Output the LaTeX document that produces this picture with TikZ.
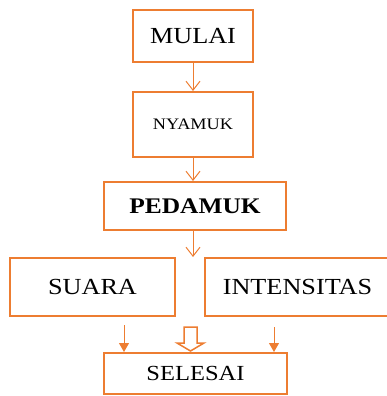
\documentclass[tikz,border=0pt]{standalone}
\usepackage{fontspec}
\setmainfont{Liberation Serif}[FakeStretch=1.14]
\usetikzlibrary{arrows.meta}
\definecolor{orng}{HTML}{ED7D31}
\begin{document}
\begin{tikzpicture}[x=1pt,y=-1pt,
  box/.style={draw=orng,line width=2pt,inner sep=0pt,text=black,
    minimum width=#1},
  big/.style={font=\fontsize{23}{25}\selectfont},
  conn/.style={draw=orng,line width=1pt},
  openarrow/.style={conn,-{Straight Barb[length=9pt,width=14pt,line width=1pt]}},
  filledarrow/.style={conn,-{Triangle[length=9pt,width=10pt]}}]
\useasboundingbox (0,0) rectangle (387,396);
\clip (0,0) rectangle (387,396);
\node[box=120pt,minimum height=52pt,big] (mulai) at (193,36) {MULAI};
\node[box=120pt,minimum height=65pt,font=\fontsize{16}{18}\selectfont] (nyamuk) at (193,124.5) {NYAMUK};
\node[box=182pt,minimum height=48pt,font=\fontsize{22.3}{24}\selectfont\bfseries] (pedamuk) at (195,206) {PEDAMUK};
\node[box=165pt,minimum height=58pt,big] (suara) at (92.5,287) {SUARA};
\node[box=185pt,minimum height=58pt,big] (intensitas) at (297.5,287) {INTENSITAS};
\node[box=183pt,minimum height=41pt,font=\fontsize{21.5}{23}\selectfont] (selesai) at (195.5,373.5) {SELESAI};
\coordinate (c3) at (193,257);
\coordinate (la) at (124,325);
\coordinate (ra) at (274,327);
\draw[openarrow] (mulai.south) -- (nyamuk.north);
\draw[openarrow] (nyamuk.south) -- (nyamuk.south |- pedamuk.north);
\draw[openarrow] (c3 |- pedamuk.south) -- (c3);
\draw[filledarrow] (la) -- (la |- selesai.north);
\draw[filledarrow] (ra) -- (ra |- selesai.north);
\draw[draw=orng,line width=1.5pt,line join=miter] (184,327) -- (197,327) -- (197,343) -- (204,343) -- (190.5,351) -- (177,343) -- (184,343) -- cycle;
\end{tikzpicture}
\end{document}
